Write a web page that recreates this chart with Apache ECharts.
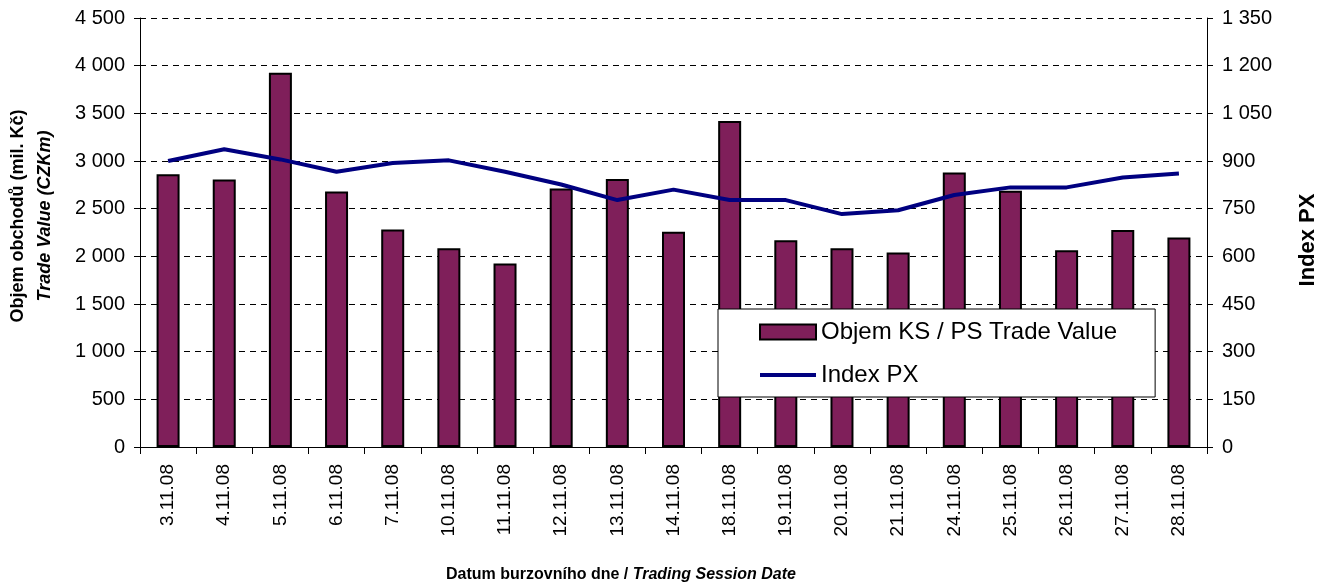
<!DOCTYPE html>
<html>
<head>
<meta charset="utf-8">
<script src="https://cdn.jsdelivr.net/npm/echarts@6/dist/echarts.min.js"></script>
<style>
  html, body { margin: 0; padding: 0; background: #fff; }
  #chart { width: 1326px; height: 586px; }
</style>
</head>
<body>
<div id="chart"></div>
<script>
// Trading session dates (November 2008)
const dates = ['3.11.08', '4.11.08', '5.11.08', '6.11.08', '7.11.08', '10.11.08', '11.11.08',
    '12.11.08', '13.11.08', '14.11.08', '18.11.08', '19.11.08', '20.11.08', '21.11.08',
    '24.11.08', '25.11.08', '26.11.08', '27.11.08', '28.11.08'];

// Objem KS / PS (mil. Kč)
const tradeValue = [2862, 2807, 3926, 2681, 2282, 2086, 1925, 2712, 2810, 2257,
    3419, 2170, 2086, 2040, 2880, 2687, 2065, 2275, 2198];

// Index PX
const indexPX = [900, 937, 905, 866, 894, 902, 866, 826, 777, 810,
    777, 777, 733, 745, 793, 817, 817, 848, 861];

const FONT = 'Liberation Sans, Arial, sans-serif';

// "4 500" style thousands separator
function fmt(v) {
    return String(v).replace(/\B(?=(\d{3})+(?!\d))/g, ' ');
}

const chart = echarts.init(document.getElementById('chart'), null, { renderer: 'canvas' });

const option = {
    backgroundColor: '#fff',
    animation: false,
    textStyle: { fontFamily: FONT, color: '#000' },
    grid: { left: 140, right: 119, top: 18, bottom: 139 },
    legend: {
        orient: 'vertical',
        left: 718,
        top: 309,
        padding: [11, 38, 10, 40],
        itemGap: 19,
        itemWidth: 56,
        itemHeight: 15,
        backgroundColor: '#fff',
        borderColor: '#000',
        borderWidth: 1,
        textStyle: { fontFamily: FONT, fontSize: 24, color: '#000' },
        data: [
            { name: 'Objem KS / PS Trade Value', icon: 'rect' },
            {
                name: 'Index PX',
                itemStyle: { color: 'rgba(0,0,0,0)', borderWidth: 0 },
                lineStyle: { color: '#000080', width: 4 }
            }
        ]
    },
    xAxis: {
        type: 'category',
        data: dates,
        axisLine: { lineStyle: { color: '#000', width: 1 } },
        axisTick: { show: true, length: 7, lineStyle: { color: '#000' } },
        axisLabel: {
            rotate: 90,
            interval: 0,
            margin: 17,
            fontSize: 19,
            fontFamily: FONT,
            color: '#000'
        }
    },
    yAxis: [
        {
            type: 'value',
            min: 0,
            max: 4500,
            interval: 500,
            axisLine: { show: true, lineStyle: { color: '#000' } },
            axisTick: { show: true, length: 6, lineStyle: { color: '#000' } },
            axisLabel: { formatter: fmt, fontSize: 20, margin: 15, color: '#000', fontFamily: FONT },
            splitLine: { show: true, lineStyle: { color: '#000', type: [6, 5], width: 1 } }
        },
        {
            type: 'value',
            min: 0,
            max: 1350,
            interval: 150,
            axisLine: { show: true, lineStyle: { color: '#000' } },
            axisTick: { show: true, length: 6, lineStyle: { color: '#000' } },
            axisLabel: { formatter: fmt, fontSize: 20, margin: 15, color: '#000', fontFamily: FONT },
            splitLine: { show: false }
        }
    ],
    series: [
        {
            name: 'Objem KS / PS Trade Value',
            type: 'bar',
            yAxisIndex: 0,
            data: tradeValue,
            barWidth: 23,
            itemStyle: { color: '#7F1F5A', borderColor: '#000', borderWidth: 2 }
        },
        {
            name: 'Index PX',
            type: 'line',
            yAxisIndex: 1,
            data: indexPX,
            symbol: 'none',
            lineStyle: { color: '#000080', width: 4 },
            itemStyle: { color: '#000080' },
            z: 5
        }
    ],
    graphic: [
        {
            type: 'text',
            x: 32,
            y: 216,
            rotation: Math.PI / 2,
            style: {
                text: '{a|Objem obchodů (mil. Kč)}\n{b|Trade Value (CZKm)}',
                align: 'center',
                verticalAlign: 'middle',
                rich: {
                    a: { fontFamily: FONT, fontSize: 18, fontWeight: 'bold', fill: '#000', lineHeight: 27 },
                    b: { fontFamily: FONT, fontSize: 18, fontWeight: 'bold', fontStyle: 'italic', fill: '#000', lineHeight: 27 }
                }
            }
        },
        {
            type: 'text',
            x: 1308,
            y: 240,
            rotation: Math.PI / 2,
            style: {
                text: 'Index PX',
                align: 'center',
                verticalAlign: 'middle',
                fontFamily: FONT,
                fontSize: 22,
                fontWeight: 'bold',
                fill: '#000'
            }
        },
        {
            type: 'text',
            x: 621,
            y: 575,
            style: {
                text: '{a|Datum burzovního dne / }{b|Trading Session Date}',
                align: 'center',
                verticalAlign: 'middle',
                rich: {
                    a: { fontFamily: FONT, fontSize: 16, fontWeight: 'bold', fill: '#000' },
                    b: { fontFamily: FONT, fontSize: 16, fontWeight: 'bold', fontStyle: 'italic', fill: '#000' }
                }
            }
        }
    ]
};

chart.setOption(option);
</script>
</body>
</html>
